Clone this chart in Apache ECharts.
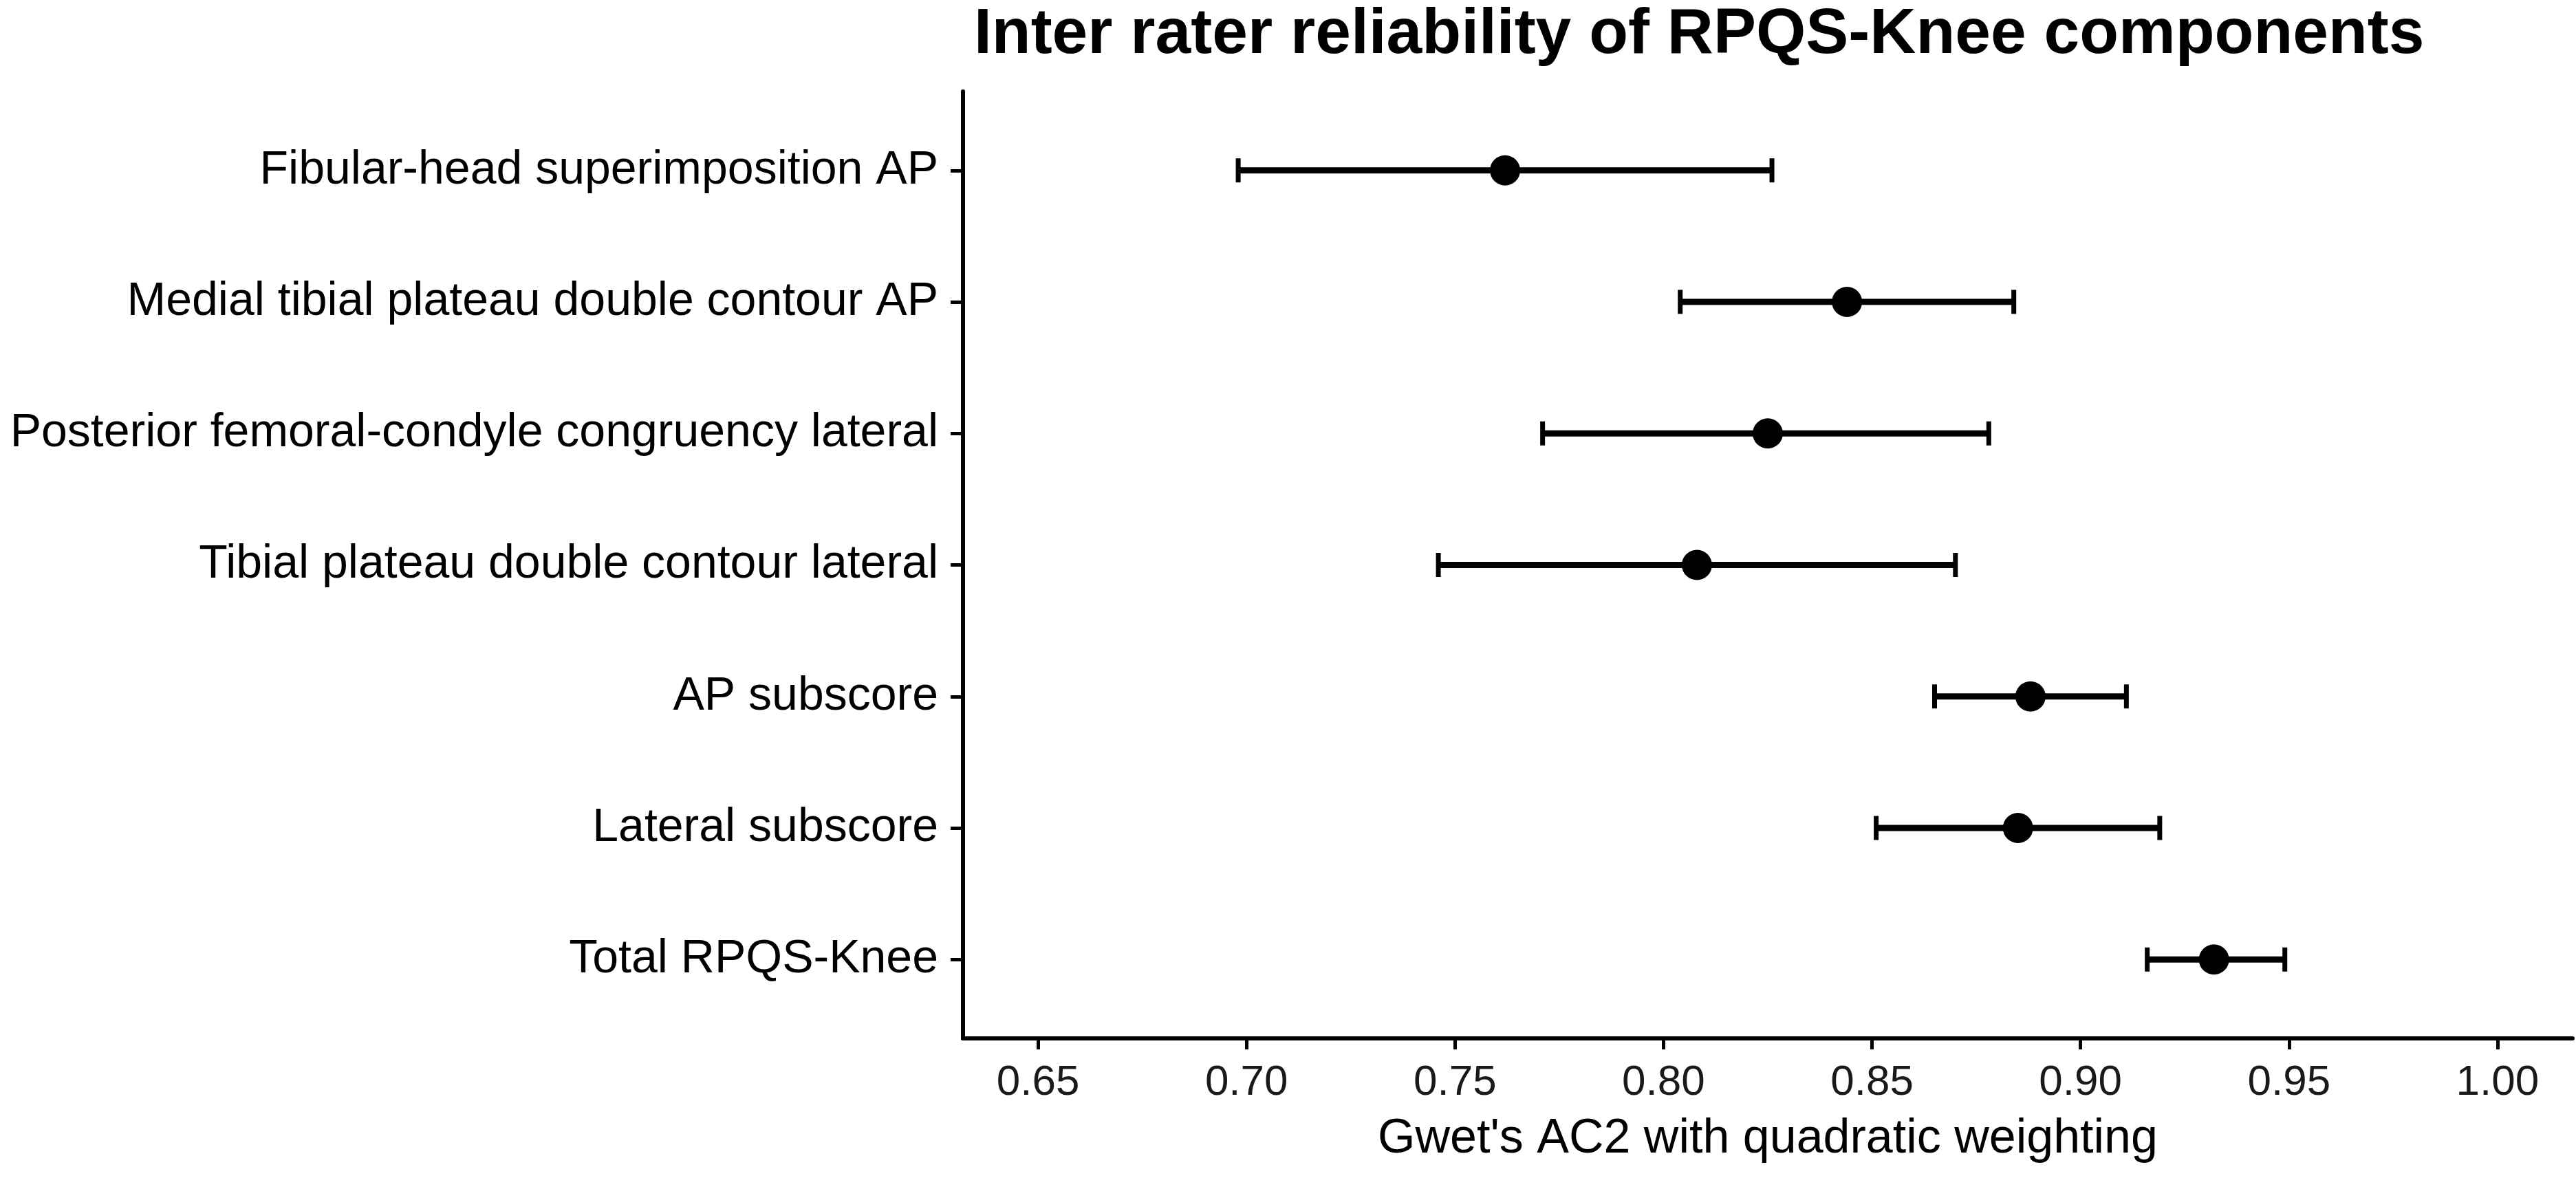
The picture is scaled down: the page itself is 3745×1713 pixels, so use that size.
<!DOCTYPE html>
<html>
<head>
<meta charset="utf-8">
<script src="https://cdn.jsdelivr.net/npm/echarts@6/dist/echarts.min.js"></script>
<style>
  html, body { margin: 0; padding: 0; background: #fff; }
  #chart { width: 3745px; height: 1713px; }
</style>
</head>
<body>
<div id="chart"></div>
<script>
const categories = [
  "Fibular-head superimposition AP",
  "Medial tibial plateau double contour AP",
  "Posterior femoral-condyle congruency lateral",
  "Tibial plateau double contour lateral",
  "AP subscore",
  "Lateral subscore",
  "Total RPQS-Knee",
];
const estimate = [0.762, 0.844, 0.825, 0.808, 0.888, 0.885, 0.932];
const lower = [0.698, 0.804, 0.771, 0.746, 0.865, 0.851, 0.916];
const upper = [0.826, 0.884, 0.878, 0.870, 0.911, 0.919, 0.949];
const xTicks = [0.65, 0.7, 0.75, 0.8, 0.85, 0.9, 0.95, 1.0];

const FONT = "Liberation Sans, Arial, sans-serif";
const rowIdx = categories.map((_, i) => i);

const chart = echarts.init(document.getElementById("chart"));

function renderErrorBar(params, api) {
  const lo = api.coord([api.value(0), api.value(2)]);
  const hi = api.coord([api.value(1), api.value(2)]);
  const half = 17.5;
  const capStyle = { stroke: "#000", lineWidth: 7 };
  return {
    type: "group",
    children: [
      {
        type: "line",
        shape: { x1: lo[0], y1: lo[1], x2: hi[0], y2: hi[1] },
        style: { stroke: "#000", lineWidth: 9 },
      },
      {
        type: "line",
        shape: { x1: lo[0], y1: lo[1] - half, x2: lo[0], y2: lo[1] + half },
        style: capStyle,
      },
      {
        type: "line",
        shape: { x1: hi[0], y1: hi[1] - half, x2: hi[0], y2: hi[1] + half },
        style: capStyle,
      },
    ],
  };
}

chart.setOption({
  animation: false,
  backgroundColor: "#fff",
  title: {
    text: "Inter rater reliability of RPQS-Knee components",
    left: 1411,
    top: 0,
    textStyle: {
      fontFamily: FONT,
      fontSize: 93,
      fontWeight: "bold",
      color: "#000",
      lineHeight: 93,
    },
  },
  grid: {
    left: 1400,
    right: 5,
    top: 133,
    bottom: 203,
  },
  xAxis: {
    type: "value",
    min: 0.632,
    max: 1.018,
    name: "Gwet's AC2 with quadratic weighting",
    nameLocation: "middle",
    nameGap: 112,
    nameTextStyle: { fontFamily: FONT, fontSize: 70, color: "#000" },
    splitLine: { show: false },
    axisLine: { onZero: false, lineStyle: { color: "#000", width: 6 } },
    axisTick: {
      customValues: xTicks,
      length: 16,
      lineStyle: { color: "#000", width: 5 },
    },
    axisLabel: {
      customValues: xTicks,
      formatter: (v) => v.toFixed(2),
      margin: 34,
      fontFamily: FONT,
      fontSize: 62,
      color: "#1a1a1a",
    },
  },
  yAxis: {
    type: "value",
    inverse: true,
    min: -0.6,
    max: 6.6,
    splitLine: { show: false },
    axisLine: { onZero: false, lineStyle: { color: "#000", width: 6 } },
    axisTick: {
      customValues: rowIdx,
      length: 18,
      lineStyle: { color: "#000", width: 5 },
    },
    axisLabel: {
      customValues: rowIdx,
      formatter: (v) => categories[Math.round(v)],
      margin: 36,
      fontFamily: FONT,
      fontSize: 68,
      color: "#000",
    },
  },
  series: [
    {
      type: "custom",
      renderItem: renderErrorBar,
      encode: { x: [0, 1], y: 2 },
      data: rowIdx.map((i) => [lower[i], upper[i], i]),
      z: 2,
    },
    {
      type: "scatter",
      symbol: "circle",
      symbolSize: 44,
      itemStyle: { color: "#000", opacity: 1 },
      data: rowIdx.map((i) => [estimate[i], i]),
      z: 3,
    },
  ],
});
</script>
</body>
</html>
